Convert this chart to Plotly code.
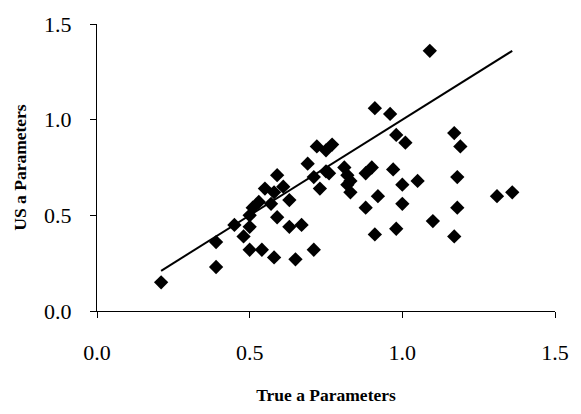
import plotly.graph_objects as go

true_a = [0.21, 0.39, 0.39, 0.45, 0.48, 0.50, 0.50, 0.54, 0.50, 0.51,
          0.53, 0.57, 0.55, 0.58, 0.61, 0.59, 0.63, 0.59, 0.63, 0.67,
          0.58, 0.65, 0.71, 0.69, 0.72, 0.75, 0.77, 0.71, 0.75, 0.73,
          0.81, 0.82, 0.83, 0.83, 0.88, 0.90, 0.97, 0.88, 0.92, 1.00,
          1.05, 1.00, 0.91, 0.98, 0.91, 0.96, 0.98, 1.01, 1.09, 1.10,
          1.17, 1.19, 1.18, 1.18, 1.17, 1.31, 1.36, 0.82, 0.76]
us_a = [0.15, 0.23, 0.36, 0.45, 0.39, 0.44, 0.32, 0.32, 0.50, 0.54,
        0.57, 0.56, 0.64, 0.62, 0.65, 0.71, 0.58, 0.49, 0.44, 0.45,
        0.28, 0.27, 0.32, 0.77, 0.86, 0.84, 0.87, 0.70, 0.73, 0.64,
        0.75, 0.71, 0.68, 0.62, 0.72, 0.75, 0.74, 0.54, 0.60, 0.66,
        0.68, 0.56, 0.40, 0.43, 1.06, 1.03, 0.92, 0.88, 1.36, 0.47,
        0.93, 0.86, 0.70, 0.54, 0.39, 0.60, 0.62, 0.66, 0.72]

line_x = [0.21, 1.36]
line_y = [0.21, 1.36]

tick_vals = [0.0, 0.5, 1.0, 1.5]
tick_text = ["0.0", "0.5", "1.0", "1.5"]

fig = go.Figure()
fig.add_trace(go.Scatter(x=true_a, y=us_a, mode="markers",
                         marker=dict(symbol="diamond", size=11, color="black"),
                         showlegend=False))
fig.add_trace(go.Scatter(x=line_x, y=line_y, mode="lines",
                         line=dict(color="black", width=2), showlegend=False))

tickfont = dict(family="Liberation Serif", size=22, color="black")
titlefont = dict(family="Liberation Serif", size=17.5, color="black", weight="bold")

fig.update_layout(
    width=581, height=414,
    margin=dict(l=97, r=17, t=16, b=97),
    paper_bgcolor="white", plot_bgcolor="white",
    xaxis=dict(range=[0, 1.5], tickvals=tick_vals, ticktext=tick_text,
               showgrid=False, zeroline=False, showline=True, linecolor="black",
               linewidth=1, ticks="outside", ticklen=6, tickcolor="black",
               tickfont=tickfont, ticklabelstandoff=16,
               title=dict(text="<b>True a Parameters</b>", font=titlefont, standoff=24)),
    yaxis=dict(range=[0, 1.5], tickvals=tick_vals, ticktext=tick_text,
               showgrid=False, zeroline=False, showline=True, linecolor="black",
               linewidth=1, ticks="outside", ticklen=6, tickcolor="black",
               tickfont=tickfont, ticklabelstandoff=14,
               title=dict(text="<b>US a Parameters</b>", font=titlefont, standoff=12)),
)

fig.write_html("out.html")
